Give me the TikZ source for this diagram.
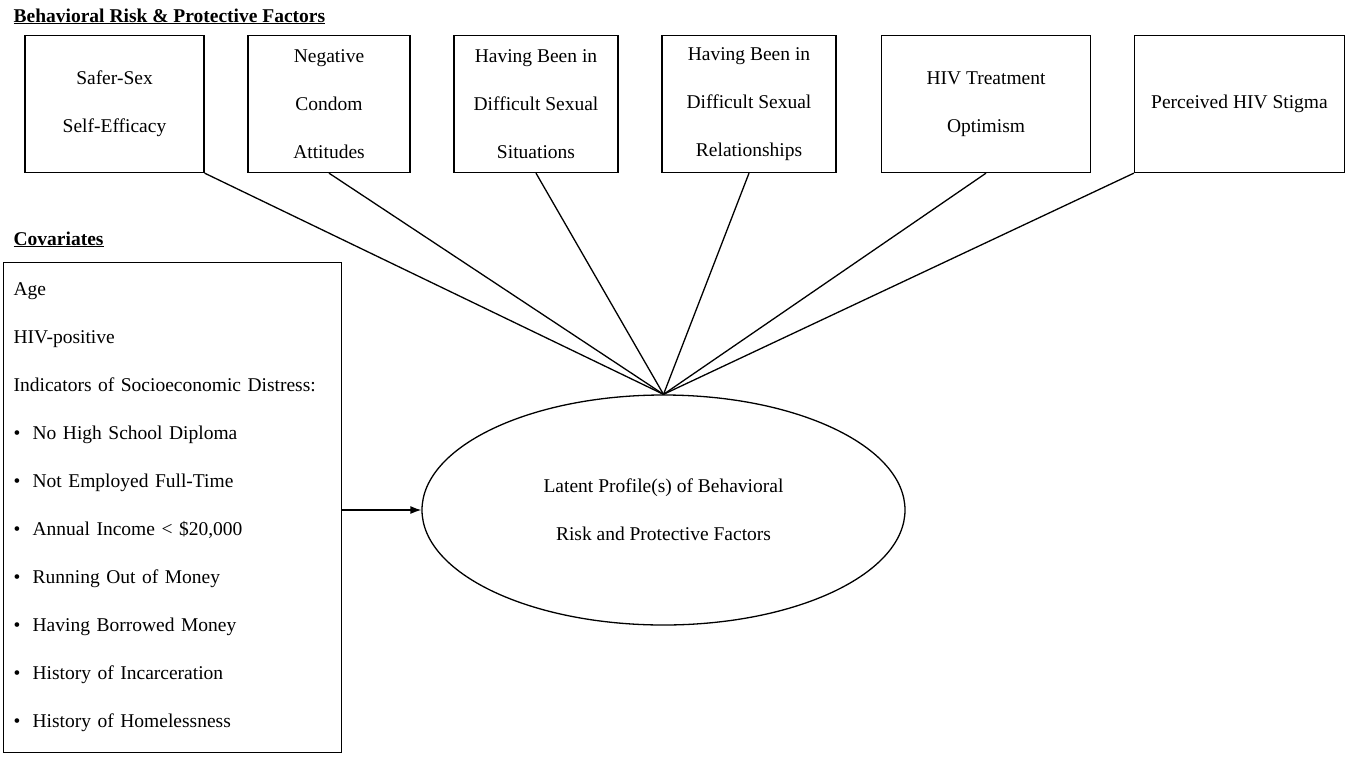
\documentclass[tikz,border=0pt]{standalone}
\usepackage{fontspec}
\setmainfont{Liberation Serif}
\usepackage{tikz}
\usetikzlibrary{arrows.meta,positioning,shapes.geometric}

\newcommand{\covitem}[1]{\makebox[19pt][l]{\textbullet}#1}

\begin{document}
\begin{tikzpicture}[x=1pt,y=-1pt,line width=1.3pt,>={Latex[length=11pt,width=8pt]},
    every node/.style={font=\fontsize{19.5}{48}\selectfont},
    factor/.style={draw,rectangle,align=center,inner sep=0pt,minimum height=137pt},
    profile/.style={draw,ellipse,align=center,inner sep=0pt,minimum width=483pt,minimum height=230pt},
    heading/.style={anchor=base west,inner sep=0pt,font=\fontsize{19.5}{24}\selectfont\bfseries}]
      \useasboundingbox (0,0) rectangle (1350,756);

      % headings
      \node[heading] (hbeh) at (13,22) {\underline{Behavioral Risk \& Protective Factors}};
      \node[heading] (hcov) at (13,245) {\underline{Covariates}};

      % risk and protective factors
      \node[factor,minimum width=179pt]            (b1) at (114.5,104) {Safer-Sex\\Self-Efficacy};
      \node[factor,minimum width=162pt,right=42.7pt of b1] (b2) {Negative\\Condom\\Attitudes};
      \node[factor,minimum width=164pt,right=42.7pt of b2] (b3) {Having Been in\\Difficult Sexual\\Situations};
      \node[factor,minimum width=174pt,right=42.7pt of b3] (b4) {Having Been in\\Difficult Sexual\\Relationships};
      \node[factor,minimum width=209pt,right=44.2pt of b4] (b5) {HIV Treatment\\Optimism};
      \node[factor,minimum width=210pt,right=42.7pt of b5] (b6) {Perceived HIV Stigma};

      % covariates
      \node[draw,anchor=north west,align=left,text width=318pt,inner xsep=10pt,inner ysep=0pt,
            minimum width=338pt,minimum height=490pt] (cov) at (3,262)
            {Age\\HIV-positive\\Indicators of Socioeconomic Distress:\\
             \covitem{No High School Diploma}\\
             \covitem{Not Employed Full-Time}\\
             \covitem{Annual Income < \$20,000}\\
             \covitem{Running Out of Money}\\
             \covitem{Having Borrowed Money}\\
             \covitem{History of Incarceration}\\
             \covitem{History of Homelessness}};

      % latent profile
      \node[profile] (lp) at (663.5,510) {Latent Profile(s) of Behavioral\\Risk and Protective Factors};

      \draw (b1.south east) -- (lp.north);
      \draw (b2.south)      -- (lp.north);
      \draw (b3.south)      -- (lp.north);
      \draw (b4.south)      -- (lp.north);
      \draw (b5.south)      -- (lp.north);
      \draw (b6.south west) -- (lp.north);
      \draw[->] (cov.east |- lp.west) -- (lp.west);
    \end{tikzpicture}
\end{document}
